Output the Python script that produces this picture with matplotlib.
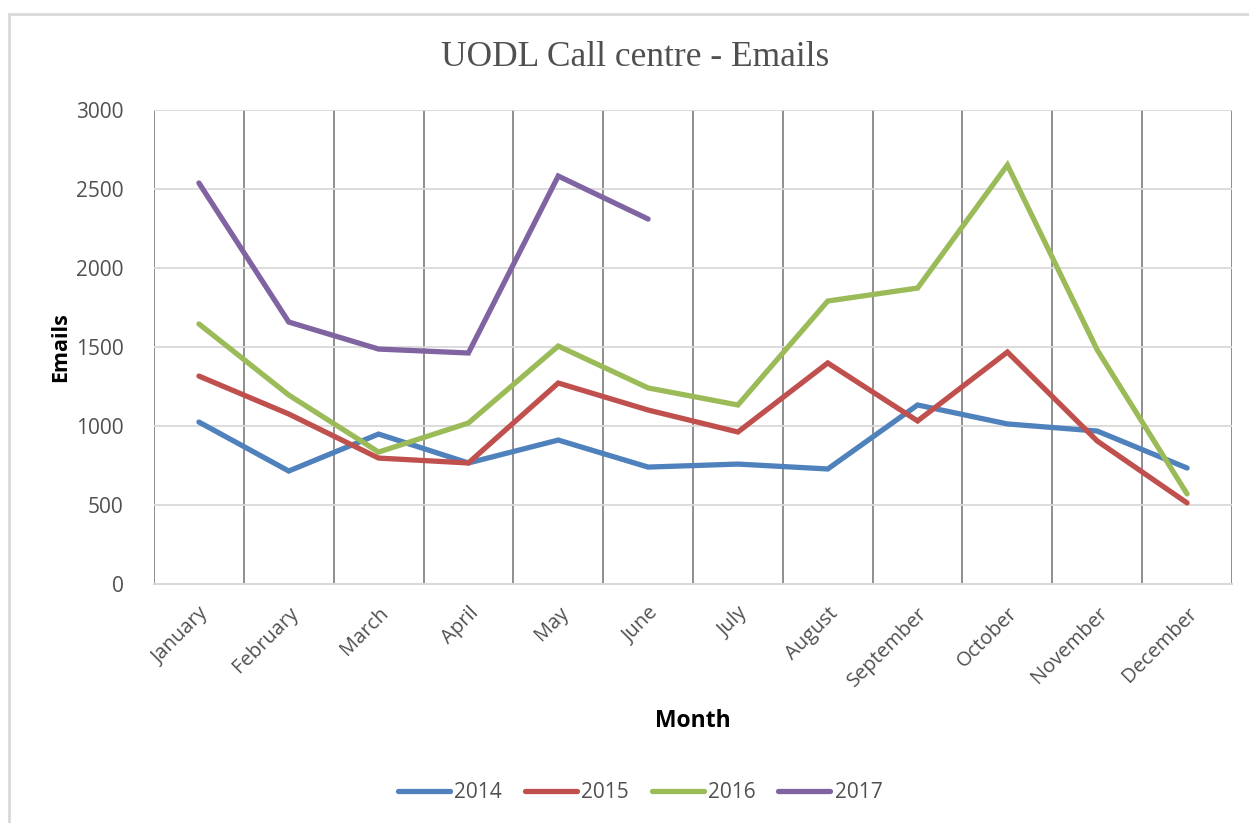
import matplotlib
matplotlib.use('Agg')
import matplotlib.pyplot as plt
from matplotlib.patches import Rectangle

# 数据
months = ['January', 'February', 'March', 'April', 'May', 'June', 'July',
          'August', 'September', 'October', 'November', 'December']
emails_2014 = [1025, 715, 949, 766, 911, 740, 759, 728, 1133, 1013, 968, 734]
emails_2015 = [1316, 1076, 797, 766, 1272, 1101, 962, 1399, 1032, 1468, 905, 513]
emails_2016 = [1646, 1196, 835, 1019, 1506, 1241, 1133, 1791, 1873, 2652, 1481, 570]
emails_2017 = [2538, 1658, 1487, 1462, 2582, 2310]

years = ['2014', '2015', '2016', '2017']
series = [emails_2014, emails_2015, emails_2016, emails_2017]
colors = ['#4F81BD', '#C0504D', '#9BBB59', '#8064A2']

plt.rcParams['font.family'] = ['Open Sans', 'DejaVu Sans']
text_color = '#505050'

fig = plt.figure(figsize=(12.49, 8.23), dpi=100)
ax = fig.add_axes([154 / 1249, 1 - 584 / 823, (1232 - 154) / 1249, (584 - 110) / 823])

# 外框
fig.patches.append(Rectangle((9 / 1249, -0.1), 1.2, 1 - 14 / 823 + 0.1,
                             transform=fig.transFigure, fill=False,
                             edgecolor='#d9d9d9', linewidth=2))

x = list(range(len(months)))
for vals, year, c in zip(series, years, colors):
    ax.plot(x[:len(vals)], vals, color=c, linewidth=3.8, label=year,
            solid_capstyle='round', solid_joinstyle='miter')

ax.set_xlim(-0.5, 11.5)
ax.set_ylim(0, 3000)
ax.set_yticks(range(0, 3001, 500))
ax.set_xticks(x)
ax.set_xticklabels(months, rotation=45, ha='right', rotation_mode='anchor',
                   fontsize=14.5, color=text_color)
ax.tick_params(axis='y', labelsize=15, labelcolor=text_color, length=0, pad=22)
ax.tick_params(axis='x', length=0, pad=14)

# 网格：横线浅灰，竖线为分类分隔线
ax.grid(axis='y', color='#d9d9d9', linewidth=1.3)
for b in range(13):
    ax.axvline(b - 0.5, color='#868686', linewidth=1.3, zorder=0.5)
ax.set_axisbelow(True)
for s in ['top', 'right', 'left']:
    ax.spines[s].set_visible(False)
ax.spines['bottom'].set_color('#d9d9d9')
ax.spines['bottom'].set_linewidth(1.5)

fig.text(635 / 1249, 1 - 58 / 823, 'UODL Call centre - Emails', ha='center', va='center',
         fontsize=25.5, family='Liberation Serif', color=text_color)
fig.text(693 / 1249, 1 - 721 / 823, 'Month', ha='center', va='center',
         fontsize=16.5, fontweight='bold', color='black')
fig.text(61 / 1249, 1 - 347 / 823, 'Emails', ha='center', va='center', rotation=90,
         fontsize=15.5, fontweight='bold', color='black')

leg = fig.legend(loc='center', bbox_to_anchor=(640 / 1249, 1 - 793 / 823), ncol=4,
                 frameon=False, fontsize=15, handlelength=2.5, handletextpad=0.2,
                 columnspacing=1.1)
for t in leg.get_texts():
    t.set_color(text_color)

fig.savefig('out.png', dpi=100)
